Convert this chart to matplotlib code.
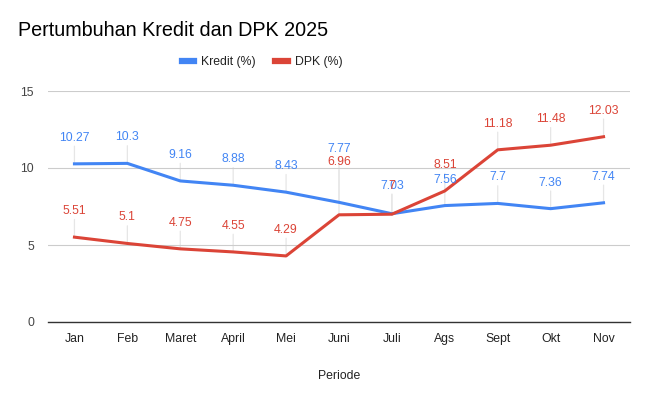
import matplotlib
matplotlib.use("Agg")
import matplotlib.pyplot as plt

months = ["Jan", "Feb", "Maret", "April", "Mei", "Juni", "Juli", "Ags", "Sept", "Okt", "Nov"]
kredit = [10.27, 10.3, 9.16, 8.88, 8.43, 7.77, 7.03, 7.56, 7.7, 7.36, 7.74]
dpk = [5.51, 5.1, 4.75, 4.55, 4.29, 6.96, 7.0, 8.51, 11.18, 11.48, 12.03]
yticks = [0, 5, 10, 15]

plt.rcParams['font.family'] = ['Liberation Sans', 'DejaVu Sans']
BLUE = '#4285F4'
RED = '#DB4437'

fig = plt.figure(figsize=(6.48, 3.97), dpi=100)
ax = fig.add_axes([48/648, 75/397, 582/648, 231/397])
x = list(range(len(months)))

ax.plot(x, kredit, color=BLUE, lw=2.2, label='Kredit (%)', zorder=3)
ax.plot(x, dpk, color=RED, lw=2.2, label='DPK (%)', zorder=3)

ax.set_xlim(-0.5, len(months) - 0.5)
ax.set_ylim(0, 15)
ax.set_yticks(yticks)
ax.set_yticklabels([str(t) for t in yticks])
ax.set_xticks(x)
ax.set_xticklabels(months)
ax.tick_params(axis='both', length=0, labelsize=8.8, colors='#222222')
ax.tick_params(axis='y', pad=10, colors='#444444')
ax.tick_params(axis='x', pad=8)
ax.grid(axis='y', color='#cccccc', lw=0.8)
for s in ['top', 'right', 'left']:
    ax.spines[s].set_visible(False)
ax.spines['bottom'].set_color('#333333')
ax.spines['bottom'].set_linewidth(1.0)
ax.set_xlabel('Periode', fontsize=8.8, color='#222222', labelpad=18)

# annotation offsets in pixels (label centre above point)
def offs(i):
    if months[i] == 'Juni':
        return 53
    if months[i] == 'Juli':
        return 28
    return 26

def fmt(v):
    return ('%.2f' % v).rstrip('0').rstrip('.')

for vals, col in [(kredit, BLUE), (dpk, RED)]:
    for i, v in enumerate(vals):
        o = offs(i) * 0.72
        ax.annotate('', xy=(i, v), xytext=(0, o - 6), textcoords='offset points',
                    arrowprops=dict(arrowstyle='-', color='#e6e6e6', lw=0.9,
                                    shrinkA=0, shrinkB=0), zorder=1)
        ax.annotate(fmt(v), xy=(i, v), xytext=(0, o), textcoords='offset points',
                    ha='center', va='center', fontsize=8.8, color=col, zorder=4)

fig.text(18/648, 1 - 30/397, 'Pertumbuhan Kredit dan DPK 2025', fontsize=14.2,
         color='#000000', va='center', ha='left')
leg = fig.legend(loc='center', bbox_to_anchor=(262/648, 1 - 62/397), ncol=2, frameon=False,
                 fontsize=8.8, handlelength=1.0, handletextpad=0.6, columnspacing=1.6,
                 labelcolor='#222222')
for h in leg.get_lines():
    h.set_linewidth(4.5)

fig.savefig('out.png', dpi=100)
